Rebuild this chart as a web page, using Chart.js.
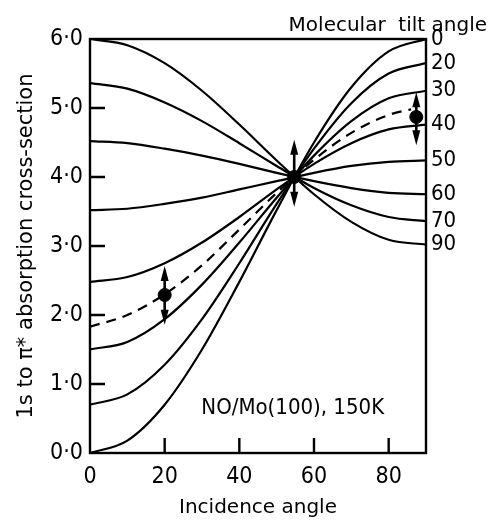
<!DOCTYPE html>
<html>
<head>
<meta charset="utf-8">
<script src="https://cdn.jsdelivr.net/npm/chart.js@4.4.1/dist/chart.umd.min.js"></script>
<style>
  body { margin: 0; background: #fff; }
  #wrap { width: 490px; height: 520px; }
</style>
</head>
<body>
<div id="wrap"><canvas id="tiltChart"></canvas></div>
<script>
// incidence angles (deg) where the curves were read
const incidence = [0, 10, 20, 30, 40, 50, 60, 70, 80, 90];
// one curve per molecular tilt angle (labels on the right edge)
const tiltLabels = ['0', '20', '30', '40', '50', '60', '70', '90'];
const tilt0  = [0.00, 0.18, 0.70, 1.50, 2.48, 3.52, 4.50, 5.30, 5.82, 6.00];
const tilt20 = [0.70, 0.85, 1.28, 1.94, 2.75, 3.61, 4.41, 5.07, 5.50, 5.65];
const tilt30 = [1.50, 1.61, 1.94, 2.44, 3.05, 3.70, 4.31, 4.81, 5.14, 5.25];
const tilt40 = [2.48, 2.55, 2.75, 3.05, 3.42, 3.82, 4.19, 4.49, 4.69, 4.76];
const tilt50 = [3.52, 3.54, 3.61, 3.70, 3.82, 3.94, 4.06, 4.16, 4.22, 4.24];
const tilt60 = [4.52, 4.49, 4.41, 4.31, 4.19, 4.06, 3.94, 3.84, 3.77, 3.75];
const tilt70 = [5.36, 5.28, 5.08, 4.81, 4.49, 4.16, 3.84, 3.59, 3.42, 3.36];
const tilt90 = [6.00, 5.91, 5.65, 5.25, 4.76, 4.24, 3.75, 3.35, 3.09, 3.02];
const tiltCurves = [tilt0, tilt20, tilt30, tilt40, tilt50, tilt60, tilt70, tilt90];

// dashed best-fit curve
const fitIncidence = [0, 10, 20, 30, 40, 50, 60, 70, 80, 86];
const fitValues = [1.83, 2.00, 2.30, 2.72, 3.24, 3.77, 4.25, 4.64, 4.90, 4.98];

// measured points with their error range
const measIncidence = [20, 54.7, 87.4];
const measValues = [2.29, 4.00, 4.87];
const measLow = [1.86, 3.57, 4.46];
const measHigh = [2.71, 4.54, 5.23];

const NARROW = "'Liberation Sans Narrow', 'DejaVu Sans Condensed', sans-serif";
const PLAIN = "'DejaVu Sans', sans-serif";

const datasets = tiltCurves.map((vals, i) => ({
  label: 'tilt ' + tiltLabels[i],
  data: incidence.map((x, j) => ({ x: x, y: vals[j] })),
  borderColor: '#000',
  borderWidth: 2.2,
  pointRadius: 0,
  cubicInterpolationMode: 'monotone',
  fill: false
}));
datasets.push({
  label: 'fit',
  data: fitIncidence.map((x, j) => ({ x: x, y: fitValues[j] })),
  borderColor: '#000',
  borderWidth: 2.2,
  borderDash: [10, 7],
  pointRadius: 0,
  cubicInterpolationMode: 'monotone',
  fill: false
});
datasets.push({
  label: 'measured',
  data: measIncidence.map((x, j) => ({ x: x, y: measValues[j] })),
  showLine: false,
  pointRadius: 6.5,
  pointBackgroundColor: '#000',
  pointBorderColor: '#000'
});

// frame, inward ticks, error arrows and the free text
const extras = {
  id: 'extras',
  afterDatasetsDraw(chart) {
    const { ctx, chartArea: a, scales } = chart;
    const x = scales.x, y = scales.y;
    ctx.save();
    ctx.strokeStyle = '#000';
    ctx.fillStyle = '#000';
    ctx.lineWidth = 2.4;
    ctx.strokeRect(a.left, a.top, a.right - a.left, a.bottom - a.top);

    ctx.beginPath();
    y.ticks.forEach(t => {
      if (t.value <= y.min || t.value >= y.max) return;
      const py = y.getPixelForValue(t.value);
      ctx.moveTo(a.left, py); ctx.lineTo(a.left + 15, py);
    });
    x.ticks.forEach(t => {
      if (t.value <= x.min || t.value >= x.max) return;
      const px = x.getPixelForValue(t.value);
      ctx.moveTo(px, a.bottom); ctx.lineTo(px, a.bottom - 15);
    });
    ctx.stroke();

    ctx.lineWidth = 2.6;
    measIncidence.forEach((inc, i) => {
      const px = x.getPixelForValue(inc);
      const py = y.getPixelForValue(measValues[i]);
      [measHigh[i], measLow[i]].forEach(v => {
        const tip = y.getPixelForValue(v);
        const dir = Math.sign(tip - py);
        ctx.beginPath();
        ctx.moveTo(px, py + dir * 6);
        ctx.lineTo(px, tip - dir * 8);
        ctx.stroke();
        ctx.beginPath();
        ctx.moveTo(px, tip);
        ctx.lineTo(px - 4, tip - dir * 15);
        ctx.lineTo(px + 4, tip - dir * 15);
        ctx.closePath();
        ctx.fill();
      });
    });

    ctx.textBaseline = 'alphabetic';
    ctx.font = '20px ' + PLAIN;
    ctx.textAlign = 'right';
    ctx.fillText('Molecular  tilt angle', 487, 31);

    ctx.font = '22px ' + NARROW;
    ctx.textAlign = 'center';
    ctx.textBaseline = 'middle';
    ctx.fillText('NO/Mo(100), 150K', x.getPixelForValue(54.3), y.getPixelForValue(0.65));
    ctx.restore();
  }
};

new Chart(document.getElementById('tiltChart'), {
  type: 'line',
  data: { datasets: datasets },
  options: {
    responsive: true,
    maintainAspectRatio: false,
    animation: false,
    layout: { padding: { top: 39, left: 0, right: 0, bottom: 0 } },
    plugins: { legend: { display: false }, tooltip: { enabled: false } },
    scales: {
      x: {
        type: 'linear',
        min: 0,
        max: 90,
        afterFit: s => { s.height = 67; },
        grid: { display: false, drawTicks: false },
        border: { display: false },
        ticks: {
          stepSize: 20,
          includeBounds: false,
          padding: 10,
          color: '#000',
          font: { family: NARROW, size: 23 }
        },
        title: {
          display: true,
          text: 'Incidence angle',
          color: '#000',
          font: { family: PLAIN, size: 20 },
          padding: { top: 0, bottom: 0 }
        }
      },
      y: {
        min: 0,
        max: 6,
        afterFit: s => { s.width = 90; },
        grid: { display: false, drawTicks: false },
        border: { display: false },
        ticks: {
          stepSize: 1,
          padding: 7,
          color: '#000',
          font: { family: NARROW, size: 23 },
          callback: v => v.toFixed(1).replace('.', '\u00b7')
        },
        title: {
          display: true,
          text: '1s to \u03c0* absorption cross-section',
          color: '#000',
          font: { family: PLAIN, size: 21 },
          padding: { top: 14, bottom: 0 }
        }
      },
      y2: {
        position: 'right',
        min: 0,
        max: 6,
        afterFit: s => { s.width = 64; },
        afterBuildTicks: s => {
          s.ticks = tiltCurves.map(c => ({ value: c[c.length - 1] }));
        },
        grid: { display: false, drawTicks: false },
        border: { display: false },
        ticks: {
          autoSkip: false,
          padding: 5,
          color: '#000',
          font: { family: NARROW, size: 22 },
          callback: (v, i) => tiltLabels[i]
        }
      }
    }
  },
  plugins: [extras]
});
</script>
</body>
</html>
